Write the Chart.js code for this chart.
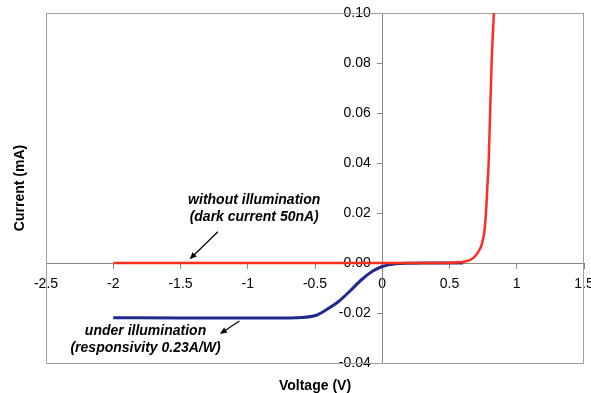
<!DOCTYPE html>
<html>
<head>
<meta charset="utf-8">
<script src="https://cdn.jsdelivr.net/npm/chart.js@4.4.1/dist/chart.umd.min.js"></script>
<style>
  html, body { margin: 0; padding: 0; background: #fff; }
  #wrap { width: 591px; height: 393px; }
</style>
</head>
<body>
<div id="wrap"><canvas id="ivchart" width="591" height="393"></canvas></div>
<script>
// dark I-V curve (no light), current in mA
const darkVoltage = [-2, -1.5, -1, -0.5, 0, 0.3, 0.5, 0.58, 0.63, 0.66, 0.687, 0.72, 0.743, 0.76, 0.771, 0.781, 0.791, 0.802, 0.813, 0.83]
const darkCurrent = [0, 0, 0, 0, 0, 0.00002, 0.0001, 0.0003, 0.0008, 0.0014, 0.0025, 0.005, 0.008, 0.013, 0.02, 0.03, 0.04, 0.06, 0.08, 0.1]

// illuminated I-V curve
const lightVoltage = [-2, -1.5, -1, -0.8, -0.6, -0.49, -0.41, -0.32, -0.24, -0.15, -0.07, 0, 0.1, 0.2, 0.3, 0.45, 0.6]
const lightCurrent = [-0.0219, -0.022, -0.022, -0.022, -0.0218, -0.0209, -0.0185, -0.0152, -0.0112, -0.0065, -0.0032, -0.0014, -0.0003, -0.0001, 0, 0, 0]

const xTickValues = [-2.5, -2, -1.5, -1, -0.5, 0, 0.5, 1, 1.5]
const xTickLabels = ['-2.5', '-2', '-1.5', '-1', '-0.5', '0', '0.5', '1', '1.5']
const yTickValues = [-0.04, -0.02, 0, 0.02, 0.04, 0.06, 0.08, 0.1]
const yTickLabels = ['-0.04', '-0.02', '0.00', '0.02', '0.04', '0.06', '0.08', '0.10']

const xTitle = 'Voltage (V)'
const yTitle = 'Current (mA)'

// notes, placed in data units
const notes = [
  { lines: ['without illumination', '(dark current 50nA)'], v: -0.952, i: [0.0252, 0.0183] },
  { lines: ['under illumination', '(responsivity 0.23A/W)'], v: -1.76, i: [-0.0271, -0.034] }
]
const arrows = [
  { from: [-1.222, 0.0125], to: [-1.432, 0.0015] },
  { from: [-1.062, -0.0232], to: [-1.207, -0.0284] }
]

const FONT = '"Liberation Sans", Arial, sans-serif'

function toPoints(xs, ys) {
  return xs.map((x, k) => ({ x: x, y: ys[k] }))
}

// axes sit inside the plot, so they take no room of their own
function noRoom(s) {
  if (s.isHorizontal()) s.height = 0
  else s.width = 0
  s.paddingLeft = 0
  s.paddingRight = 0
  s.paddingTop = 0
  s.paddingBottom = 0
}

const decorations = {
  id: 'decorations',
  beforeDatasetsDraw(chart) {
    const { ctx, chartArea: a } = chart
    ctx.save()
    ctx.strokeStyle = '#a0a0a0'
    ctx.lineWidth = 1
    ctx.strokeRect(Math.round(a.left) + 0.5, Math.round(a.top) + 0.5,
      Math.round(a.right - a.left) - 1, Math.round(a.bottom - a.top))
    ctx.restore()
  },
  afterDraw(chart) {
    const { ctx, chartArea: a } = chart
    const xs = chart.scales.x
    const ys = chart.scales.y
    ctx.save()
    ctx.fillStyle = '#000'
    ctx.font = 'bold 14px ' + FONT
    ctx.textAlign = 'center'
    ctx.textBaseline = 'middle'
    ctx.fillText(xTitle, (a.left + a.right) / 2, 386)
    ctx.save()
    ctx.translate(20, (a.top + a.bottom) / 2)
    ctx.rotate(-Math.PI / 2)
    ctx.fillText(yTitle, 0, 0)
    ctx.restore()

    ctx.font = 'italic bold 14px ' + FONT
    for (const n of notes) {
      n.lines.forEach((t, k) => {
        ctx.fillText(t, xs.getPixelForValue(n.v), ys.getPixelForValue(n.i[k]))
      })
    }

    ctx.strokeStyle = '#000'
    ctx.lineWidth = 1.2
    for (const ar of arrows) {
      const x1 = xs.getPixelForValue(ar.from[0]), y1 = ys.getPixelForValue(ar.from[1])
      const x2 = xs.getPixelForValue(ar.to[0]), y2 = ys.getPixelForValue(ar.to[1])
      const ang = Math.atan2(y2 - y1, x2 - x1)
      ctx.beginPath()
      ctx.moveTo(x1, y1)
      ctx.lineTo(x2 - 4 * Math.cos(ang), y2 - 4 * Math.sin(ang))
      ctx.stroke()
      ctx.beginPath()
      ctx.moveTo(x2, y2)
      ctx.lineTo(x2 - 7 * Math.cos(ang) + 3 * Math.sin(ang), y2 - 7 * Math.sin(ang) - 3 * Math.cos(ang))
      ctx.lineTo(x2 - 7 * Math.cos(ang) - 3 * Math.sin(ang), y2 - 7 * Math.sin(ang) + 3 * Math.cos(ang))
      ctx.closePath()
      ctx.fill()
    }
    ctx.restore()
  }
}

const ctx = document.getElementById('ivchart').getContext('2d')
// eslint-disable-next-line no-unused-vars
const chart = new Chart(ctx, {
  type: 'line',
  data: {
    datasets: [{
      label: 'dark',
      data: toPoints(darkVoltage, darkCurrent),
      borderColor: '#ff2e1f',
      borderWidth: 2.5,
      pointRadius: 0,
      cubicInterpolationMode: 'monotone'
    }, {
      label: 'light',
      data: toPoints(lightVoltage, lightCurrent),
      borderColor: '#1f2a8c',
      borderWidth: 3,
      pointRadius: 0,
      cubicInterpolationMode: 'monotone'
    }]
  },
  options: {
    responsive: false,
    animation: false,
    layout: { padding: { left: 46, right: 7, top: 13, bottom: 30 } },
    plugins: {
      legend: { display: false },
      tooltip: { enabled: false }
    },
    scales: {
      x: {
        type: 'linear',
        min: -2.5,
        max: 1.5,
        position: { y: 0 },
        afterFit: noRoom,
        afterBuildTicks: s => { s.ticks = xTickValues.map(v => ({ value: v })) },
        grid: { drawOnChartArea: false, drawTicks: true, tickLength: 5, color: '#888' },
        border: { display: true, color: '#888', width: 1 },
        ticks: {
          autoSkip: false,
          maxRotation: 0,
          padding: 8,
          color: '#000',
          font: { family: FONT, size: 14 },
          callback: (v, k) => xTickLabels[k]
        }
      },
      y: {
        type: 'linear',
        min: -0.04,
        max: 0.1,
        position: { x: 0 },
        afterFit: noRoom,
        afterBuildTicks: s => { s.ticks = yTickValues.map(v => ({ value: v })) },
        grid: { drawOnChartArea: false, drawTicks: true, tickLength: 5, color: '#888' },
        border: { display: true, color: '#888', width: 1 },
        ticks: { display: false }
      },
      // label-only copy of the current axis, set just left of the V=0 line
      yLabels: {
        type: 'linear',
        axis: 'y',
        min: -0.04,
        max: 0.1,
        position: { x: -0.0855 },
        afterFit: noRoom,
        afterBuildTicks: s => { s.ticks = yTickValues.map(v => ({ value: v })) },
        grid: { display: false, drawTicks: false },
        border: { display: false },
        ticks: {
          autoSkip: false,
          padding: 0,
          color: '#000',
          font: { family: FONT, size: 14 },
          callback: (v, k) => yTickLabels[k]
        }
      }
    }
  },
  plugins: [decorations]
})
</script>
</body>
</html>
